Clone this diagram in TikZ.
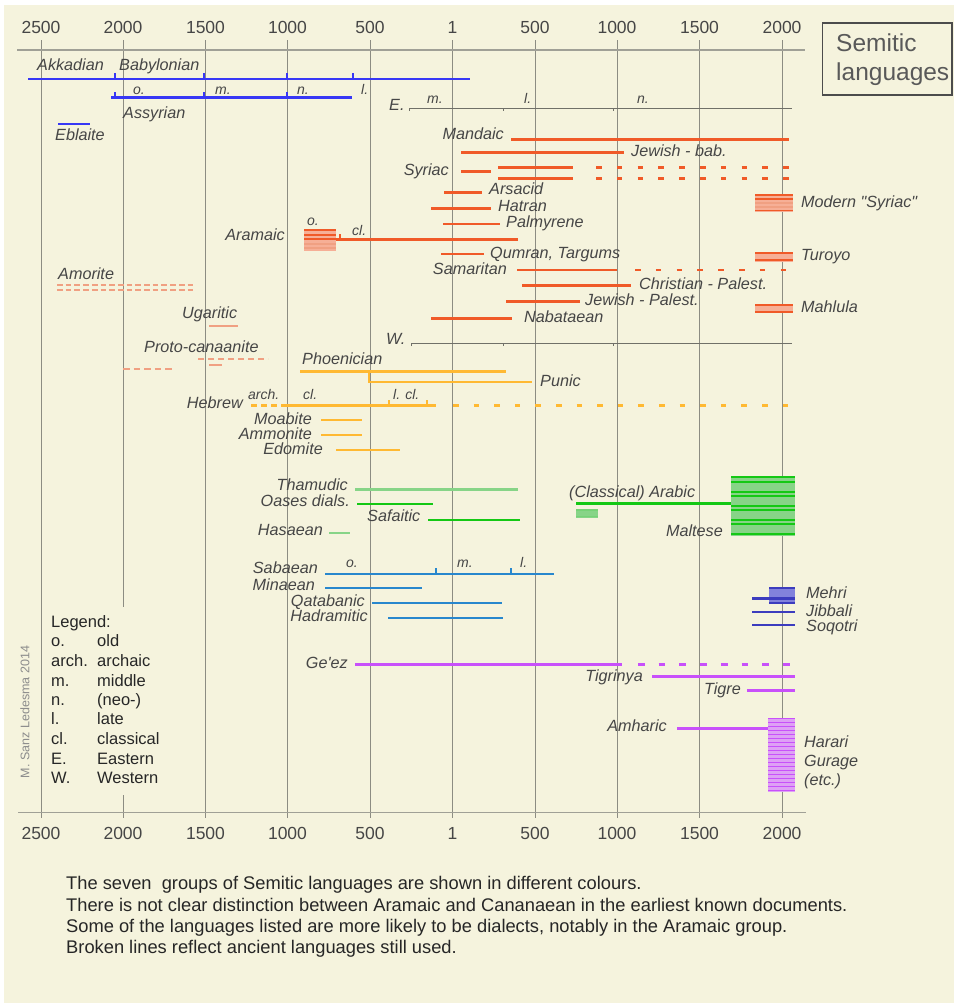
\documentclass[tikz,border=0pt]{standalone}
\usepackage{fontspec}
\setmainfont{Liberation Sans}[Ligatures=TeXOff]
\definecolor{bgc}{RGB}{245,243,221}
\definecolor{gridc}{RGB}{140,140,130}
\definecolor{axc}{RGB}{160,160,150}
\definecolor{txt}{RGB}{70,70,70}
\definecolor{akk}{RGB}{55,55,245}
\definecolor{ara}{RGB}{240,90,40}
\definecolor{aral}{RGB}{246,175,150}
\definecolor{sal}{RGB}{240,160,130}
\definecolor{can}{RGB}{255,185,50}
\definecolor{grn}{RGB}{20,200,20}
\definecolor{grnl}{RGB}{135,212,135}
\definecolor{sab}{RGB}{40,135,205}
\definecolor{msa}{RGB}{60,60,190}
\definecolor{msal}{RGB}{130,130,220}
\definecolor{eth}{RGB}{200,80,250}
\definecolor{ethl}{RGB}{222,160,245}
\newcommand\labf{\fontsize{16.2}{16.2}\selectfont\itshape}
\newcommand\smf{\fontsize{14}{14}\selectfont\itshape}
\newcommand\axf{\fontsize{17.5}{17.5}\selectfont}
\newcommand\legf{\fontsize{16.5}{16.5}\selectfont}
\newcommand\footf{\fontsize{18.3}{18.3}\selectfont}
\begin{document}
\begin{tikzpicture}[x=1pt,y=-1pt,
  grid/.style={draw=gridc, line width=0.9pt},
  axisline/.style={draw=axc, line width=1.6pt},
  bar/.style={line width=2.7pt},
  thinline/.style={draw=gridc!80!black, line width=0.9pt},
  lab/.style={font=\labf, text=txt, inner sep=0pt, text height=11pt, text depth=2.5pt},
  labw/.style={lab, anchor=west},
  labe/.style={lab, anchor=east},
  per/.style={font=\smf, text=txt, inner sep=0pt, text height=10pt, text depth=2pt},
  axlab/.style={font=\axf, text=txt, inner sep=0pt},
  leg/.style={font=\legf, text=black!85, inner sep=0pt, anchor=west, text height=11.5pt, text depth=3pt},
  foot/.style={font=\footf, text=black!85, inner sep=0pt, anchor=west, text height=12.5pt, text depth=3.5pt},
  sdash/.style={dash pattern=on 5.5pt off 15.3pt},
]
\useasboundingbox (0,0) rectangle (954,1005);
\fill[white] (0,0) rectangle (954,1005);
\fill[bgc] (4,5) rectangle (954,1003);

% ---------- axes and grid ----------
\foreach \x/\t [count=\i] in {41/2500,123/2000,205.5/1500,287.5/1000,370/500,452.5/1,535/500,617/1000,699.5/1500,782/2000}{
  \node[axlab] (top\i) at (\x,27) {\t};
  \node[axlab] (bot\i) at (\x,833) {\t};
}
\foreach \x in {41,205.5,287.5,370,452.5,535,617,699.5,782}{
  \draw[grid] (\x,40) -- (\x,818);
}
\draw[grid] (123,40) -- (123,607);
\draw[grid] (123,795) -- (123,818);
\draw[axisline] (17,50) -- (805,50);
\draw[axisline] (18,812.5) -- (806,812.5);

% ---------- title ----------
\draw[draw=black!70, line width=1.4pt] (822.7,23) rectangle (952,95);
\node[font=\fontsize{24.5}{24.5}\selectfont, text=black!65, inner sep=0pt, anchor=west] (title1) at (836,43) {Semitic};
\node[font=\fontsize{24.5}{24.5}\selectfont, text=black!65, inner sep=0pt, anchor=west] (title2) at (836,74) {languages};

% ---------- East Semitic (blue) ----------
\draw[bar, akk] (28,79) -- (470,79);
\foreach \x in {115,204,287,353}{ \draw[akk, line width=1.6pt] (\x,79) -- (\x,72.5); }
\draw[bar, akk] (111,97.7) -- (352,97.7);
\foreach \x in {115,204,287}{ \draw[akk, line width=1.6pt] (\x,97.7) -- (\x,91.5); }
\draw[bar, akk] (58,124) -- (90,124);
\node[labw] (akkadian) at (37,66) {Akkadian};
\node[labw] (babylonian) at (119,66) {Babylonian};
\node[per, anchor=west] (asso) at (133,90) {o.};
\node[per, anchor=west] (assm) at (215,90) {m.};
\node[per, anchor=west] (assn) at (297,90) {n.};
\node[per, anchor=west] (assl) at (361,90) {l.};
\node[labw] (assyrian) at (123,114) {Assyrian};
\node[labw] (eblaite) at (55,136) {Eblaite};

% ---------- Eastern / Western Aramaic guide lines ----------
\draw[thinline] (409,111) -- (409,108) -- (792,108);
\draw[thinline] (503,108) -- (503,111);
\draw[thinline] (613,108) -- (613,111);
\node[labw] (E) at (389,106) {E.};
\node[per, anchor=west] (Em) at (427,99) {m.};
\node[per, anchor=west] (El) at (524,99) {l.};
\node[per, anchor=west] (En) at (637,99) {n.};
\draw[thinline] (411,346) -- (411,343.3) -- (792,343.3);
\draw[thinline] (503,343.3) -- (503,346);
\draw[thinline] (613,343.3) -- (613,346);
\node[labw] (W) at (386,340) {W.};

% ---------- Aramaic (orange) ----------
\draw[bar, ara] (511,139.3) -- (789,139.3);
\node[labe] (mandaic) at (504,135) {Mandaic};
\draw[bar, ara] (461,152.3) -- (624,152.3);
\node[labw] (jbab) at (631,152) {Jewish - bab.};
\draw[bar, ara] (461,171.7) -- (491,171.7);
\draw[bar, ara] (498,167.7) -- (573,167.7);
\draw[bar, ara] (498,178.7) -- (573,178.7);
\draw[bar, ara, sdash] (596,167.7) -- (790,167.7);
\draw[bar, ara, sdash] (596,178.7) -- (790,178.7);
\node[labe] (syriac) at (449,171) {Syriac};
\draw[bar, ara] (444,192.3) -- (482,192.3);
\node[labw] (arsacid) at (489,190) {Arsacid};
\draw[bar, ara] (431,208.3) -- (491,208.3);
\node[labw] (hatran) at (498,207) {Hatran};
\draw[bar, ara] (443,224) -- (500,224);
\node[labw] (palmyrene) at (506,223) {Palmyrene};
% Old Aramaic block
\fill[aral] (304,228.5) rectangle (336,251);
\foreach \y in {230,234.5,239.3}{ \draw[ara, line width=2pt] (304,\y) -- (336,\y); }
\foreach \y in {243.8,248.3}{ \draw[sal, line width=1.8pt] (304,\y) -- (336,\y); }
\draw[bar, ara] (336,239.3) -- (518,239.3);
\draw[ara, line width=1.6pt] (340,239.3) -- (340,233.5);
\node[labe] (aramaic) at (285,236) {Aramaic};
\node[per] (arao) at (313,221) {o.};
\node[per, anchor=west] (aracl) at (352,231) {cl.};
\draw[bar, ara] (441,254) -- (484,254);
\node[labw] (qumran) at (490,254) {Qumran, Targums};
\draw[bar, ara] (517,270) -- (617,270);
\draw[bar, ara, sdash] (635,270) -- (790,270);
\node[labe] (samaritan) at (507,270) {Samaritan};
\draw[bar, ara] (522,285.7) -- (631,285.7);
\node[labw] (cpal) at (639,285) {Christian - Palest.};
\draw[bar, ara] (506,301.7) -- (580,301.7);
\node[labw] (jpal) at (585,301) {Jewish - Palest.};
\draw[bar, ara] (431,318.3) -- (512,318.3);
\node[labw] (nabataean) at (524,318) {Nabataean};
% modern Aramaic
\fill[aral] (755,193.5) rectangle (793,211.5);
\foreach \y in {195,199,210.5}{ \draw[ara, line width=1.8pt] (755,\y) -- (793,\y); }
\foreach \y in {203,206.8}{ \draw[sal, line width=1.6pt] (755,\y) -- (793,\y); }
\node[labw] (msyriac) at (801,203) {Modern "Syriac"};
\fill[aral] (755,252) rectangle (793,261.5);
\foreach \y in {253.3,260}{ \draw[ara, line width=1.8pt] (755,\y) -- (793,\y); }
\node[labw] (turoyo) at (801,256) {Turoyo};
\fill[aral] (755,304) rectangle (793,313);
\foreach \y in {305,311.7}{ \draw[ara, line width=1.8pt] (755,\y) -- (793,\y); }
\node[labw] (mahlula) at (801,308) {Mahlula};

% ---------- Amorite, Ugaritic, Proto-canaanite (salmon) ----------
\draw[sal, line width=2pt, dash pattern=on 5.7pt off 3pt] (57,285) -- (196,285);
\draw[sal, line width=2pt, dash pattern=on 5.7pt off 3pt] (57,290) -- (196,290);
\node[labw] (amorite) at (58,275) {Amorite};
\draw[sal, line width=2.4pt] (209,326) -- (238,326);
\node[labw] (ugaritic) at (182,314) {Ugaritic};
\draw[sal, line width=2.2pt, dash pattern=on 6pt off 4pt] (198,359) -- (268,359);
\draw[sal, line width=2.2pt] (209,365) -- (222,365);
\draw[sal, line width=2.2pt, dash pattern=on 6.5pt off 4pt] (123,369) -- (172,369);
\node[labw] (protocan) at (144,348) {Proto-canaanite};

% ---------- Canaanite (yellow) ----------
\draw[bar, can] (300,371.7) -- (506,371.7);
\draw[can, line width=2.4pt] (369,370.5) -- (369,382) -- (532,382);
\node[labw] (phoenician) at (302,360) {Phoenician};
\node[labw] (punic) at (540,382) {Punic};
\draw[bar, can, dash pattern=on 6pt off 4pt] (251,405.7) -- (283,405.7);
\draw[bar, can] (283,405.7) -- (436,405.7);
\foreach \x in {389,427}{ \draw[can, line width=1.6pt] (\x,405.7) -- (\x,400); }
\draw[bar, can, dash pattern=on 5.5pt off 15.1pt] (453,405.7) -- (790,405.7);
\node[labe] (hebrew) at (243,404) {Hebrew};
\node[per, anchor=west] (harch) at (248,395) {arch.};
\node[per, anchor=west] (hcl) at (303,395) {cl.};
\node[per, anchor=west] (hlcl) at (393,395) {l. cl.};
\draw[bar, can] (321,420) -- (362,420);
\node[labe] (moabite) at (312,420) {Moabite};
\draw[bar, can] (321,435) -- (362,435);
\node[labe] (ammonite) at (312,435) {Ammonite};
\draw[bar, can] (336,450) -- (400,450);
\node[labe] (edomite) at (323,450) {Edomite};

% ---------- Arabic (green) ----------
\draw[bar, grnl] (355,489.3) -- (518,489.3);
\node[labe] (thamudic) at (348,486) {Thamudic};
\draw[bar, grn] (357,504) -- (433,504);
\node[labe] (oases) at (350,502) {Oases dials.};
\draw[bar, grn] (428,520) -- (520,520);
\node[labw] (safaitic) at (367,517) {Safaitic};
\draw[bar, grnl] (329,533) -- (350,533);
\node[labe] (hasaean) at (323,531) {Hasaean};
\fill[grnl] (731,476) rectangle (795,535.5);
\foreach \y in {477.3,481.7,491.7,496,505.7,510,520,524.3,534.3}{ \draw[grn, line width=2pt] (731,\y) -- (795,\y); }
\draw[grn, line width=2.4pt] (576,503.5) -- (731,503.5);
\fill[grnl] (576,508.5) rectangle (598,518);
\foreach \y in {510,516.5}{ \draw[grnl!85!grn, line width=1.8pt] (576,\y) -- (598,\y); }
\node[labw] (arabic) at (569,493) {(Classical) Arabic};
\node[labe] (maltese) at (723,532) {Maltese};

% ---------- Old South Arabian (sky blue) ----------
\draw[bar, sab] (325,574) -- (554,574);
\foreach \x in {436,511}{ \draw[sab, line width=1.6pt] (\x,574) -- (\x,568); }
\node[labe] (sabaean) at (318,569) {Sabaean};
\node[per] (sabo) at (352,563) {o.};
\node[per, anchor=west] (sabm) at (457,563) {m.};
\node[per, anchor=west] (sabl) at (520,563) {l.};
\draw[bar, sab] (325,588) -- (422,588);
\node[labe] (minaean) at (315,586) {Minaean};
\draw[bar, sab] (372,603) -- (502,603);
\node[labe] (qatabanic) at (365,602) {Qatabanic};
\draw[bar, sab] (388,618) -- (503,618);
\node[labe] (hadramitic) at (368,617) {Hadramitic};

% ---------- Modern South Arabian (dark blue) ----------
\fill[msal] (769,587) rectangle (795,604);
\foreach \y in {588.3,598.3,603}{ \draw[msa, line width=1.8pt] (769,\y) -- (795,\y); }
\draw[msa, line width=2.4pt] (752,598.3) -- (795,598.3);
\node[labw] (mehri) at (806,594) {Mehri};
\draw[bar, msa] (752,612) -- (795,612);
\node[labw] (jibbali) at (806,612) {Jibbali};
\draw[bar, msa] (752,625) -- (795,625);
\node[labw] (soqotri) at (806,627) {Soqotri};

% ---------- Ethiopic (purple) ----------
\draw[bar, eth] (355,664.3) -- (622,664.3);
\draw[bar, eth, dash pattern=on 6.7pt off 14pt] (638,664.3) -- (790,664.3);
\node[labe] (geez) at (348,664) {Ge'ez};
\draw[bar, eth] (652,676.7) -- (795,676.7);
\node[labe] (tigrinya) at (643,677) {Tigrinya};
\draw[bar, eth] (747,690.7) -- (795,690.7);
\node[labe] (tigre) at (741,690) {Tigre};
\fill[ethl] (768,717.5) rectangle (795,791.5);
\foreach \i in {0,...,18}{ \draw[eth, line width=1.6pt] (768,718.5+4.0*\i) -- (795,718.5+4.0*\i); }
\draw[bar, eth] (677,728.7) -- (768,728.7);
\node[labe] (amharic) at (667,727) {Amharic};
\node[labw] (harari) at (804,743) {Harari};
\node[labw] (gurage) at (804,762) {Gurage};
\node[labw] (etc) at (804,781) {(etc.)};

% ---------- legend ----------
\node[leg] (legt) at (51,623) {Legend:};
\foreach \a/\b/\y [count=\i] in {o./old/642,arch./archaic/662,m./middle/682,n./(neo-)/701,l./late/720,cl./classical/740,E./Eastern/760,W./Western/779}{
  \node[leg] (lega\i) at (51,\y) {\a};
  \node[leg] (legb\i) at (97,\y) {\b};
}
\node[rotate=90, font=\fontsize{12.5}{12.5}\selectfont, text=black!45, inner sep=0pt] (credit) at (25,712) {M. Sanz Ledesma 2014};

% ---------- footer ----------
\node[foot] (f1) at (66,885) {The seven\ \ groups of Semitic languages are shown in different colours.};
\node[foot] (f2) at (66,906.5) {There is not clear distinction between Aramaic and Cananaean in the earliest known documents.};
\node[foot] (f3) at (66,927.5) {Some of the languages listed are more likely to be dialects, notably in the Aramaic group.};
\node[foot] (f4) at (66,949) {Broken lines reflect ancient languages still used.};
\end{tikzpicture}
\end{document}
